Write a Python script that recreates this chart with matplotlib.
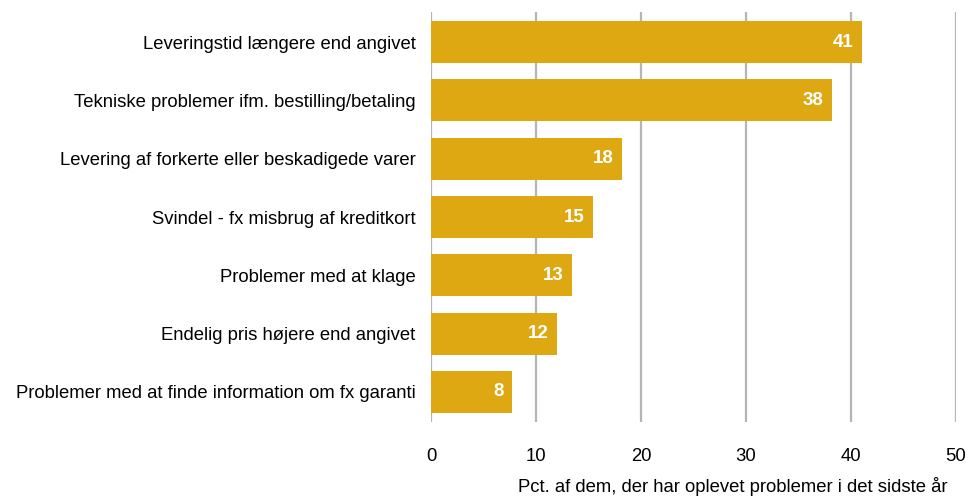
import matplotlib
matplotlib.use("Agg")
import matplotlib.pyplot as plt

categories = [
    "Leveringstid længere end angivet",
    "Tekniske problemer ifm. bestilling/betaling",
    "Levering af forkerte eller beskadigede varer",
    "Svindel - fx misbrug af kreditkort",
    "Problemer med at klage",
    "Endelig pris højere end angivet",
    "Problemer med at finde information om fx garanti",
]
values = [41.0, 38.2, 18.2, 15.4, 13.4, 12.0, 7.7]
value_labels = ["41", "38", "18", "15", "13", "12", "8"]
xticks = [0, 10, 20, 30, 40, 50]
xlabel = "Pct. af dem, der har oplevet problemer i det sidste år"

plt.rcParams["font.family"] = ["Liberation Sans", "DejaVu Sans"]

bar_color = "#DEA812"
grid_color = "#B5B5B5"

fig = plt.figure(figsize=(9.69, 4.97), dpi=100)
ax = fig.add_axes([431/969, 1 - 422/497, (956 - 431)/969, (422 - 12)/497])

ypos = list(range(len(categories)))
ax.barh(ypos, values, height=0.72, color=bar_color, zorder=3)
for y, v, lab in zip(ypos, values, value_labels):
    ax.text(v - 0.8, y, lab, ha="right", va="center", color="white",
            fontsize=13.5, fontweight="bold", zorder=4)

ax.set_xlim(0, 50)
ax.set_ylim(6.515, -0.515)
ax.set_xticks(xticks)
ax.set_xticklabels([str(t) for t in xticks], fontsize=13.3)
ax.set_yticks(ypos)
ax.set_yticklabels(categories, fontsize=13.3)
ax.tick_params(axis="both", length=0)
ax.tick_params(axis="x", pad=19)
ax.tick_params(axis="y", pad=11)
for s in ax.spines.values():
    s.set_visible(False)
ax.xaxis.grid(True, color=grid_color, linewidth=1.6, zorder=0)
ax.set_axisbelow(True)

fig.text(948/969, 1 - 486/497, xlabel, ha="right", va="center", fontsize=13.3)

fig.savefig("out.png", dpi=100, facecolor="white")
